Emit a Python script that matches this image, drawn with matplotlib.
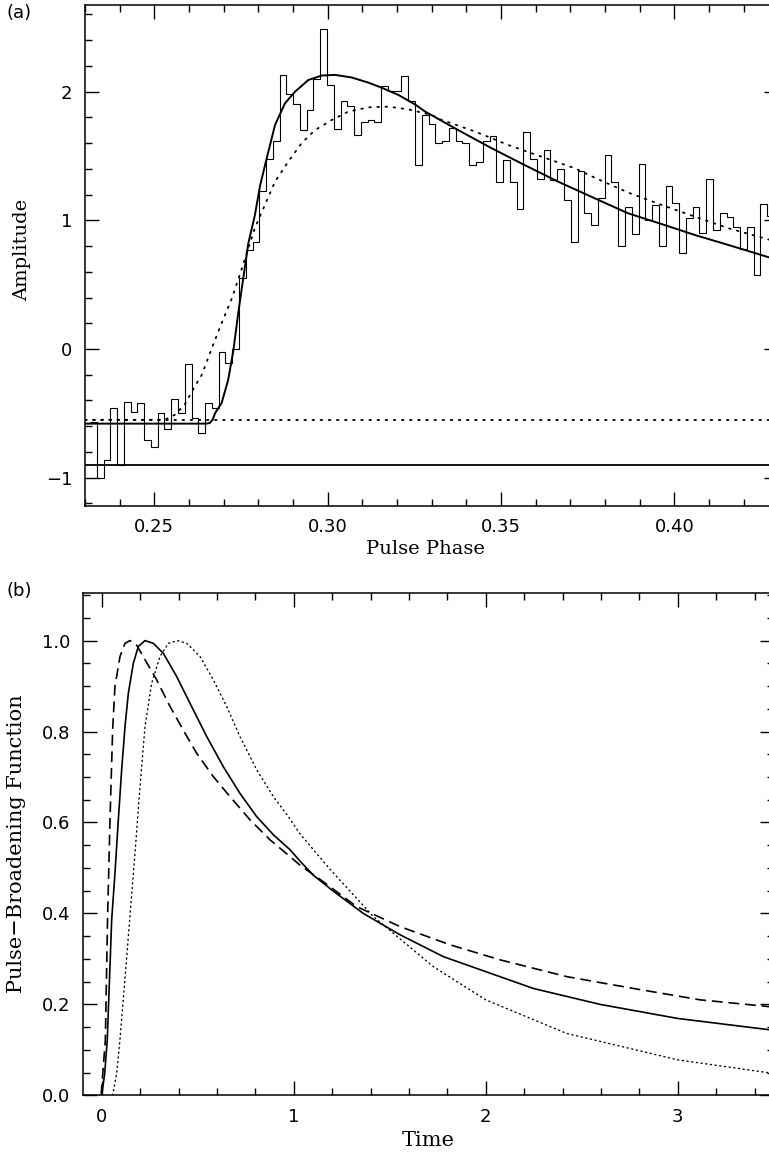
import numpy as np
import matplotlib
matplotlib.use("Agg")
import matplotlib.pyplot as plt
from matplotlib.ticker import MultipleLocator, FuncFormatter

# ---------------- panel (a): observed profile and model fits ----------------
bins_per_turn = 512          # profile bins of width 1/512 in phase
first_bin = 119              # first (partly visible) bin, centred at 119/512
profile = [
    -0.57,
    -1.00, -0.86, -0.46, -0.90, -0.41, -0.49, -0.42, -0.71, -0.76, -0.50,
    -0.62, -0.39, -0.50, -0.12, -0.54, -0.655, -0.42, -0.46, -0.02, -0.11,
    0.00, 0.55, 0.77, 0.83, 1.23, 1.48, 1.62, 2.13, 1.98, 1.90,
    1.70, 1.86, 2.10, 2.49, 2.05, 1.71, 1.93, 1.89, 1.66, 1.76,
    1.78, 1.76, 2.04, 2.005, 2.005, 2.12, 1.93, 1.43, 1.82, 1.75,
    1.60, 1.62, 1.715, 1.62, 1.60, 1.43, 1.455, 1.62, 1.655, 1.30,
    1.47, 1.30, 1.085, 1.69, 1.48, 1.32, 1.55, 1.31, 1.40, 1.16,
    0.83, 1.38, 1.06, 0.96, 1.17, 1.51, 1.295, 0.80, 1.106, 0.894,
    1.435, 1.00, 1.116, 0.80, 1.267, 1.132, 0.743, 1.015, 1.106, 0.899,
    1.318, 0.925, 1.059, 1.028, 0.95, 0.777, 0.95, 0.575, 1.127, 1.033,
]

solid_fit_phase = [0.2300, 0.2650, 0.2660, 0.2668, 0.2675, 0.2694, 0.2713, 0.2728,
                   0.2742, 0.2757, 0.2771, 0.2790, 0.2805, 0.2824, 0.2848, 0.2877,
                   0.2906, 0.2944, 0.2983, 0.3021, 0.3069, 0.3117, 0.3156, 0.3204,
                   0.3252, 0.3281, 0.3377, 0.3473, 0.3560, 0.3665, 0.3771, 0.3867,
                   0.3963, 0.4059, 0.4156, 0.4300]
solid_fit_amp = [-0.58, -0.58, -0.575, -0.55, -0.50, -0.42, -0.24, -0.01,
                 0.28, 0.56, 0.82, 1.04, 1.27, 1.48, 1.74, 1.91,
                 2.00, 2.09, 2.125, 2.13, 2.11, 2.07, 2.03, 1.974,
                 1.90, 1.845, 1.70, 1.56, 1.44, 1.30, 1.17, 1.054,
                 0.971, 0.886, 0.808, 0.69]

dotted_fit_phase = [0.2300, 0.2530, 0.2560, 0.2588, 0.2617, 0.2637, 0.2665, 0.2694,
                    0.2723, 0.2747, 0.2766, 0.2790, 0.2819, 0.2848, 0.2886, 0.2925,
                    0.2963, 0.3012, 0.3059, 0.3117, 0.3175, 0.3233, 0.3300, 0.3329,
                    0.3425, 0.3521, 0.3617, 0.3713, 0.3771, 0.3867, 0.3963, 0.4059,
                    0.4156, 0.4300]
dotted_fit_amp = [-0.55, -0.55, -0.51, -0.43, -0.29, -0.20, 0.00, 0.20,
                  0.39, 0.58, 0.74, 0.94, 1.12, 1.30, 1.455, 1.60,
                  1.70, 1.78, 1.844, 1.878, 1.883, 1.862, 1.818, 1.78,
                  1.69, 1.585, 1.494, 1.404, 1.33, 1.215, 1.12, 1.028,
                  0.938, 0.83]

baseline_solid = -0.90
baseline_dotted = -0.55

# ---------------- panel (b): pulse-broadening functions ----------------
pbf_solid_t = [0.0, 0.0156, 0.029, 0.052, 0.069, 0.0866, 0.104, 0.1214, 0.1387,
               0.1647, 0.1908, 0.2255, 0.2689, 0.321, 0.3905, 0.46, 0.547, 0.633,
               0.72, 0.807, 0.894, 0.981, 1.033, 1.1023, 1.206, 1.3625, 1.554,
               1.779, 2.0, 2.248, 2.595, 3.0, 3.5]
pbf_solid = [0.0, 0.048, 0.122, 0.386, 0.488, 0.606, 0.716, 0.811, 0.884,
             0.950, 0.987, 1.0, 0.994, 0.972, 0.921, 0.862, 0.789, 0.723,
             0.664, 0.613, 0.573, 0.540, 0.515, 0.484, 0.449, 0.400, 0.353,
             0.305, 0.272, 0.235, 0.200, 0.169, 0.143]

pbf_dashed_t = [-0.003, 0.019, 0.0304, 0.0432, 0.057, 0.069, 0.0953, 0.1214, 0.147,
                0.182, 0.2255, 0.286, 0.356, 0.425, 0.495, 0.581, 0.668, 0.772,
                0.876, 0.981, 1.033, 1.137, 1.328, 1.554, 1.814, 2.074, 2.422,
                2.769, 3.116, 3.5]
pbf_dashed = [0.0, 0.122, 0.386, 0.606, 0.804, 0.899, 0.965, 0.994, 1.0,
              0.99, 0.958, 0.914, 0.855, 0.803, 0.752, 0.701, 0.657, 0.606,
              0.562, 0.525, 0.506, 0.475, 0.415, 0.371, 0.331, 0.298, 0.261,
              0.235, 0.210, 0.194]

pbf_dotted_t = [0.057, 0.078, 0.095, 0.12, 0.147, 0.1734, 0.1995, 0.2255, 0.26,
                0.3036, 0.347, 0.394, 0.443, 0.512, 0.581, 0.651, 0.72, 0.807,
                0.894, 0.972, 1.0328, 1.189, 1.415, 1.727, 2.0, 2.422, 3.0, 3.5]
pbf_dotted = [0.0, 0.048, 0.122, 0.25, 0.393, 0.532, 0.679, 0.811, 0.906,
              0.965, 0.994, 1.0, 0.994, 0.965, 0.914, 0.855, 0.789, 0.716,
              0.657, 0.613, 0.575, 0.497, 0.393, 0.283, 0.21, 0.136, 0.078, 0.048]

# ---------------- figure ----------------
W, H = 769, 1152
fig = plt.figure(figsize=(W / 100, H / 100), dpi=100)
fig.patch.set_facecolor("white")

tick_font = "DejaVu Sans"
label_font = "DejaVu Serif"


def style_axes(ax):
    for s in ax.spines.values():
        s.set_linewidth(1.1)
    ax.tick_params(which="both", direction="in", top=True, right=True,
                   width=1.0, labelsize=13, pad=9)
    ax.tick_params(which="major", length=10)
    ax.tick_params(which="minor", length=5)
    for lab in ax.get_xticklabels() + ax.get_yticklabels():
        lab.set_fontfamily(tick_font)


def minus_int(v, pos):
    return ("\u2212%d" % abs(round(v))) if v < 0 else "%d" % round(v)


# panel (a)
axA = fig.add_axes([85 / W, 1 - 506 / H, (778.4 - 85) / W, 501 / H])
edges = np.arange(first_bin - 0.5, first_bin + len(profile) + 0.5) / bins_per_turn
axA.stairs(profile, edges, baseline=None, color="black", lw=0.8)
axA.plot(solid_fit_phase, solid_fit_amp, color="black", lw=1.4, solid_capstyle="round")
axA.plot(dotted_fit_phase, dotted_fit_amp, color="black", lw=1.3,
         linestyle=(0, (0.9, 3.6)), dash_capstyle="round")
axA.axhline(baseline_solid, color="black", lw=1.3)
axA.axhline(baseline_dotted, color="black", lw=1.3,
            linestyle=(0, (0.9, 3.6)), dash_capstyle="round")
axA.set_xlim(0.23, 0.43)
axA.set_ylim(-1.22, 2.673)
axA.xaxis.set_major_locator(MultipleLocator(0.05))
axA.xaxis.set_minor_locator(MultipleLocator(0.01))
axA.yaxis.set_major_locator(MultipleLocator(1))
axA.yaxis.set_minor_locator(MultipleLocator(0.2))
axA.xaxis.set_major_formatter(FuncFormatter(lambda v, p: "%.2f" % v))
axA.yaxis.set_major_formatter(FuncFormatter(minus_int))
style_axes(axA)

# panel (b)
axB = fig.add_axes([82.5 / W, 1 - 1095.3 / H, (773.7 - 82.5) / W, 502 / H])
axB.plot(pbf_solid_t, pbf_solid, color="black", lw=1.2)
axB.plot(pbf_dashed_t, pbf_dashed, color="black", lw=1.2, linestyle=(0, (6.5, 3.5)))
axB.plot(pbf_dotted_t, pbf_dotted, color="black", lw=1.0,
         linestyle=(0, (0.8, 2.6)), dash_capstyle="round")
axB.set_xlim(-0.1, 3.5)
axB.set_ylim(0, 1.104)
axB.xaxis.set_major_locator(MultipleLocator(1))
axB.xaxis.set_minor_locator(MultipleLocator(0.2))
axB.yaxis.set_major_locator(MultipleLocator(0.2))
axB.yaxis.set_minor_locator(MultipleLocator(0.05))
axB.xaxis.set_major_formatter(FuncFormatter(lambda v, p: "%d" % round(v)))
axB.yaxis.set_major_formatter(FuncFormatter(lambda v, p: "%.1f" % v))
style_axes(axB)

# labels
fig.text(6 / W, 1 - 13 / H, "(a)", fontsize=13, family=tick_font, va="center", ha="left")
fig.text(7 / W, 1 - 591 / H, "(b)", fontsize=13, family=tick_font, va="center", ha="left")
fig.text(22 / W, 1 - 250 / H, "Amplitude", rotation=90, fontsize=14,
         family=label_font, va="center", ha="center")
fig.text(425 / W, 1 - 549 / H, "Pulse Phase", fontsize=14,
         family=label_font, va="center", ha="center")
fig.text(17 / W, 1 - 844 / H, "Pulse\u2212Broadening Function", rotation=90,
         fontsize=15, family=label_font, va="center", ha="center")
fig.text(428 / W, 1 - 1140 / H, "Time", fontsize=15,
         family=label_font, va="center", ha="center")

fig.savefig("out.png", dpi=100, facecolor="white")
